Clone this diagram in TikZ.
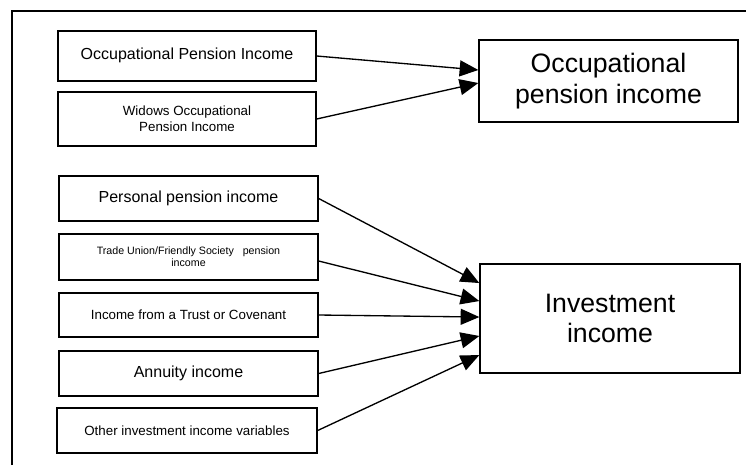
\documentclass[tikz,border=0pt]{standalone}
\usepackage{fontspec}
\setmainfont{Liberation Sans}
\usetikzlibrary{arrows.meta}
\begin{document}
\begin{tikzpicture}[x=0.75pt,y=-0.75pt,
  box/.style={draw, line width=1pt, rectangle, inner sep=0pt, align=center},
  sz/.style 2 args={minimum width=#1*0.75pt, minimum height=#2*0.75pt},
  big/.style={font=\fontsize{20}{23}\selectfont},
  mid/.style={font=\fontsize{12}{14}\selectfont},
  small/.style={font=\fontsize{10}{12}\selectfont},
  tiny/.style={font=\fontsize{8}{9}\selectfont},
  feed/.style={line width=1pt, -{Triangle[length=14pt,width=12pt]}},
  frame/.style={line width=0.8pt}]
\useasboundingbox (0,0) rectangle (746,465);
% outer frame (open at right and bottom)
\draw[frame] (12,465) -- (12,11) -- (746,11);

% source variables
\node[box, sz={258}{50}, mid]   (occS)  at (187,56)    {\raisebox{4pt}{Occupational Pension Income}};
\node[box, sz={258}{54}, small] (widS)  at (187,119)   {Widows Occupational\\Pension Income};
\node[box, sz={259}{45}, mid]   (pers)  at (188.5,198.5) {Personal pension income};
\node[box, sz={259}{46}, tiny]  (trade) at (188.5,257) {Trade Union/Friendly Society~~~pension\\income};
\node[box, sz={259}{44}, small] (trust) at (188.5,315) {Income from a Trust or Covenant};
\node[box, sz={259}{45}, mid]   (annu)  at (188.5,373.5) {Annuity income};
\node[box, sz={260}{45}, small] (other) at (187,430.5) {Other investment income variables};

% derived categories
\node[box, sz={259}{82}, big]  (occT) at (608.5,81)  {Occupational\\pension income};
\node[box, sz={260}{109}, big] (inv)  at (610,318.5) {Investment\\income};

% connectors
\draw[feed] (occS.east) -- ([yshift=8.25pt]occT.west);
\draw[feed] (widS.east) -- ([yshift=-1.5pt]occT.west);
\draw[feed] (pers.east)  -- ([yshift=26.6pt]inv.west);
\draw[feed] ([yshift=-3pt]trade.east) -- ([yshift=13.1pt]inv.west);
\draw[feed] (trust.east) -- ([yshift=1.1pt]inv.west);
\draw[feed] (annu.east)  -- ([yshift=-13.1pt]inv.west);
\draw[feed] (other.east) -- ([yshift=-27.4pt]inv.west);
\end{tikzpicture}
\end{document}
